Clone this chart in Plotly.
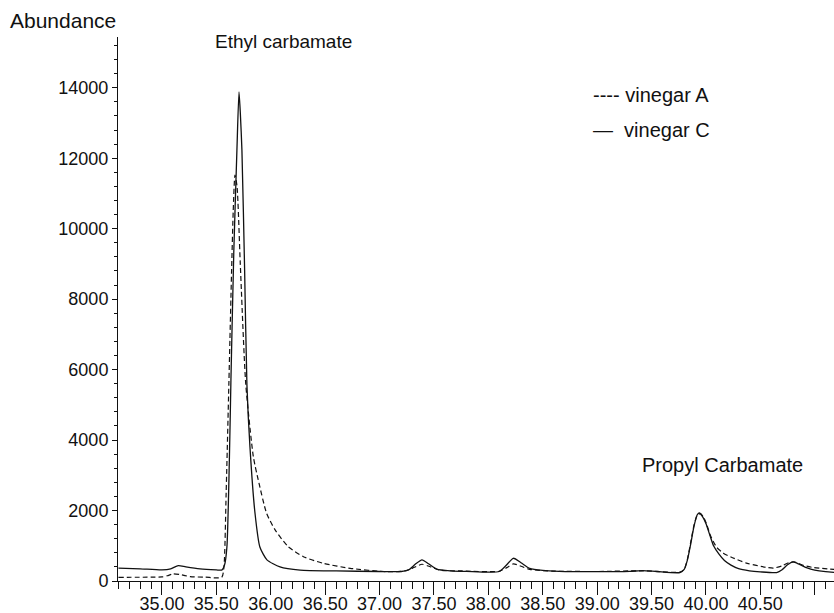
import plotly.graph_objects as go

# Retention time (min) and abundance for vinegar C (solid)
time_c = [34.60, 34.80, 35.00, 35.08, 35.15, 35.22, 35.35, 35.50, 35.55, 35.575, 35.597, 35.62, 35.634,
          35.66, 35.689, 35.708, 35.72, 35.735, 35.76, 35.781, 35.809, 35.855, 35.90, 35.965, 36.085,
          36.27, 36.60, 37.00, 37.20, 37.27, 37.33, 37.39, 37.45, 37.525, 37.65, 37.80, 38.10, 38.16,
          38.23, 38.30, 38.38, 38.50, 38.65, 39.00, 39.30, 39.42, 39.55, 39.76, 39.80, 39.83, 39.86,
          39.89, 39.92, 39.94, 39.97, 40.00, 40.04, 40.07, 40.12, 40.17, 40.23, 40.30, 40.40, 40.50,
          40.65, 40.70, 40.75, 40.80, 40.86, 40.93, 41.00, 41.10, 41.18]
abund_c = [365, 345, 315, 345, 435, 400, 345, 315, 310, 450, 965, 3500, 5700,
           9300, 12230, 13880, 13300, 12230, 8800, 5560, 3800, 1930, 965, 600, 400,
           310, 285, 270, 270, 320, 480, 600, 490, 340, 290, 275, 270, 430,
           645, 520, 360, 300, 275, 265, 275, 295, 270, 240, 330, 600, 1050,
           1550, 1880, 1930, 1820, 1630, 1260, 1000, 760, 580, 450, 350, 290, 260,
           240, 320, 460, 540, 470, 370, 310, 265, 245]

# Retention time (min) and abundance for vinegar A (dashed)
time_a = [34.60, 34.90, 35.00, 35.05, 35.10, 35.16, 35.26, 35.40, 35.55, 35.57, 35.59, 35.615, 35.64,
          35.655, 35.671, 35.69, 35.72, 35.77, 35.84, 35.885, 35.962, 36.04, 36.16, 36.30, 36.485,
          36.73, 37.065, 37.23, 37.30, 37.39, 37.46, 37.55, 37.76, 38.10, 38.17, 38.23, 38.30, 38.38,
          38.60, 39.00, 39.42, 39.76, 39.80, 39.83, 39.86, 39.89, 39.92, 39.95, 39.98, 40.01, 40.04,
          40.10, 40.16, 40.23, 40.38, 40.55, 40.62, 40.70, 40.76, 40.81, 40.90, 40.99, 41.18]
abund_a = [105, 108, 115, 150, 200, 185, 125, 108, 105, 400, 2500, 5600, 8800,
           10500, 11520, 11200, 9000, 5600, 3530, 2870, 1920, 1450, 975, 690, 500,
           360, 265, 285, 360, 475, 410, 310, 285, 275, 380, 485, 420, 330,
           280, 270, 290, 250, 330, 620, 1100, 1580, 1870, 1910, 1800, 1580, 1300,
           950, 790, 680, 500, 390, 365, 430, 520, 545, 440, 380, 330]

x_tickvals = [35.0, 35.5, 36.0, 36.5, 37.0, 37.5, 38.0, 38.5, 39.0, 39.5, 40.0, 40.5, 41.0]
x_ticktext = ["35.00", "35.50", "36.00", "36.50", "37.00", "37.50", "38.00", "38.50",
              "39.00", "39.50", "40.00", "40.50", ""]
y_tickvals = [0, 2000, 4000, 6000, 8000, 10000, 12000, 14000]

FONT = "Liberation Sans, Arial, Helvetica, sans-serif"
INK = "#111111"

fig = go.Figure()
fig.add_trace(go.Scatter(x=time_a, y=abund_a, mode="lines", name="vinegar A",
                         line=dict(color=INK, width=1.2, dash="5px,3px", shape="spline", smoothing=0.6)))
fig.add_trace(go.Scatter(x=time_c, y=abund_c, mode="lines", name="vinegar C",
                         line=dict(color=INK, width=1.3, shape="spline", smoothing=0.6)))

fig.update_layout(
    width=834, height=613,
    margin=dict(l=118, r=0, t=37, b=32, autoexpand=False),
    paper_bgcolor="white", plot_bgcolor="white",
    showlegend=False,
    font=dict(family=FONT, size=18, color=INK),
    xaxis=dict(range=[34.596, 41.177], showgrid=False, zeroline=False, automargin=False,
               showline=True, linecolor=INK, linewidth=1,
               tickmode="array", tickvals=x_tickvals, ticktext=x_ticktext,
               ticks="outside", ticklen=13, tickwidth=1, tickcolor=INK,
               ticklabelstandoff=-7,
               minor=dict(tickmode="linear", tick0=35.0, dtick=0.1, ticks="outside",
                          ticklen=7, tickwidth=1, tickcolor=INK),
               tickfont=dict(family=FONT, size=18, color=INK)),
    yaxis=dict(range=[0, 15440], showgrid=False, zeroline=False, automargin=False,
               showline=True, linecolor=INK, linewidth=1,
               tickmode="array", tickvals=y_tickvals, tickformat="d",
               ticks="outside", ticklen=5, tickwidth=1, tickcolor=INK,
               minor=dict(tickmode="linear", tick0=0, dtick=400, ticks="outside",
                          ticklen=3, tickwidth=1, tickcolor=INK),
               tickfont=dict(family=FONT, size=18, color=INK)),
)


def label(text, px, py, size):
    fig.add_annotation(text=text, xref="paper", yref="paper", showarrow=False,
                       xanchor="left", yanchor="middle",
                       x=(px - 118) / 716, y=(581 - py) / 544,
                       font=dict(family=FONT, size=size, color=INK))


label("Abundance", 8, 20, 21)
label("Ethyl carbamate", 213, 42, 19)
label("Propyl Carbamate", 640, 465, 20)
label("----\u00a0vinegar A", 591, 95, 20)
label("—\u00a0\u00a0vinegar C", 591, 130, 20)

fig.write_html("out.html", config={"displayModeBar": False},
               post_script="document.body.style.margin='0';document.body.style.overflow='hidden';")
